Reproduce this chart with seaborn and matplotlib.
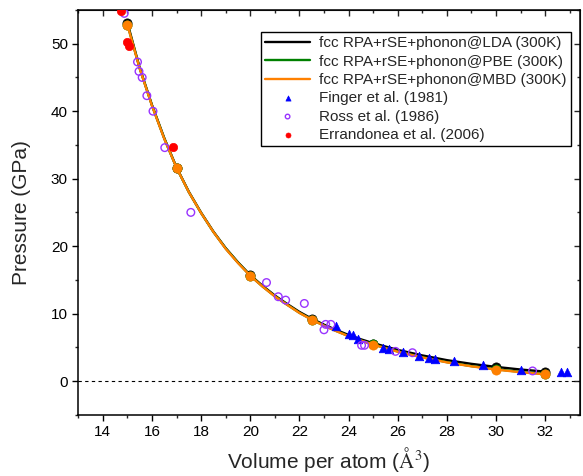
import matplotlib
matplotlib.use('Agg')
import matplotlib.pyplot as plt
import seaborn as sns
import pandas as pd
from matplotlib.ticker import MultipleLocator, NullFormatter

# computed points (markers)
v_calc = [15.0, 17.0, 20.0, 22.5, 25.0, 30.0, 32.0]
p_calc_lda = [53.1, 31.65, 15.65, 9.15, 5.45, 2.1, 1.4]
p_calc_pbe = [52.85, 31.6, 15.62, 9.12, 5.42, 1.75, 1.05]
p_calc_mbd = [52.8, 31.6, 15.6, 9.1, 5.4, 1.7, 1.0]

# curves
v_curve = [15.0, 15.5, 16.0, 16.5, 17.0, 17.5, 18.0, 18.5, 19.0, 19.5, 20.0,
           20.5, 21.0, 21.5, 22.0, 22.5, 23.0, 23.5, 24.0, 24.5, 25.0,
           26.0, 27.0, 28.0, 29.0, 30.0, 31.0, 32.0]
p_curve_lda = [53.1, 46.4, 40.9, 36.0, 31.65, 28.05, 24.95, 22.15, 19.7, 17.6, 15.7,
               14.12, 12.68, 11.43, 10.25, 9.25, 8.36, 7.57, 6.83, 6.19, 5.62,
               4.62, 3.8, 3.1, 2.55, 2.1, 1.71, 1.4]
p_curve_pbe = [52.85, 46.35, 40.85, 35.95, 31.6, 28.0, 24.9, 22.1, 19.65, 17.55, 15.62,
               14.02, 12.57, 11.32, 10.12, 9.12, 8.22, 7.42, 6.67, 6.02, 5.42,
               4.38, 3.53, 2.8, 2.21, 1.75, 1.35, 1.05]
p_curve_mbd = [52.8, 46.3, 40.8, 35.9, 31.6, 28.0, 24.9, 22.1, 19.6, 17.5, 15.6,
               14.0, 12.55, 11.3, 10.1, 9.1, 8.2, 7.4, 6.65, 6.0, 5.4,
               4.35, 3.5, 2.77, 2.18, 1.7, 1.31, 1.0]

# experiments
v_finger = [23.47, 24.03, 24.19, 24.37, 25.4, 25.65, 26.2, 26.85, 27.28, 27.53,
            28.29, 29.48, 31.02, 32.65, 32.9]
p_finger = [8.1, 7.0, 6.9, 6.3, 4.9, 4.7, 4.3, 3.7, 3.4, 3.25,
            2.9, 2.4, 1.7, 1.4, 1.3]
v_ross = [14.87, 15.41, 15.47, 15.6, 15.79, 16.04, 16.52, 17.58, 20.66, 21.14,
          21.44, 22.2, 23.0, 23.07, 23.28, 24.53, 24.65, 25.91, 26.6, 31.49]
p_ross = [54.5, 47.3, 45.9, 45.0, 42.3, 40.0, 34.6, 25.0, 14.6, 12.5,
          12.0, 11.5, 7.6, 8.4, 8.4, 5.3, 5.3, 4.4, 4.2, 1.5]
v_err = [14.73, 15.0, 15.07, 16.86]
p_err = [54.9, 50.2, 49.6, 34.7]

labels_calc = ['fcc RPA+rSE+phonon@LDA (300K)',
               'fcc RPA+rSE+phonon@PBE (300K)',
               'fcc RPA+rSE+phonon@MBD (300K)']
colors_calc = ['black', '#008000', '#FF8000']

sns.set_style('ticks')
plt.rcParams['font.family'] = ['Liberation Sans', 'DejaVu Sans']
plt.rcParams['mathtext.fontset'] = 'stix'

fig = plt.figure(figsize=(5.83, 4.76), dpi=100)
ax = fig.add_axes([0.1343, 0.1286, 0.8597, 0.8504])

ax.axhline(0, color='black', ls=(0, (3, 3)), lw=0.8, zorder=1)

curves = [p_curve_lda, p_curve_pbe, p_curve_mbd]
calcs = [p_calc_lda, p_calc_pbe, p_calc_mbd]
for i in range(3):
    df = pd.DataFrame({'V': v_curve, 'P': curves[i]})
    sns.lineplot(data=df, x='V', y='P', color=colors_calc[i], lw=1.7,
                 label=labels_calc[i], sort=False, estimator=None, ax=ax, zorder=3 + i)

sns.scatterplot(x=v_finger, y=p_finger, marker='^', s=38, color='#0000FF',
                edgecolor='#0000FF', linewidth=0.5, label='Finger et al. (1981)', ax=ax, zorder=6)
sns.scatterplot(x=v_ross, y=p_ross, marker='o', s=30, color='#9933FF',
                linewidth=1.0, label='Ross et al. (1986)', ax=ax, zorder=7)
ross_pts = ax.collections[-1]
ross_pts.set_facecolor('none')
ross_pts.set_edgecolor('#9933FF')
sns.scatterplot(x=v_err, y=p_err, marker='o', s=36, color='#FF0000',
                edgecolor='#FF0000', linewidth=0.5, label='Errandonea et al. (2006)', ax=ax, zorder=8)

for i in range(3):
    sns.scatterplot(x=v_calc, y=calcs[i], marker='o', s=44, color=colors_calc[i],
                    edgecolor=colors_calc[i], linewidth=0.5, ax=ax, zorder=3 + i, legend=False)

ax.set_xlim(13, 33.4)
ax.set_ylim(-5, 55)
ax.xaxis.set_major_locator(MultipleLocator(2))
ax.xaxis.set_minor_locator(MultipleLocator(1))
ax.yaxis.set_major_locator(MultipleLocator(10))
ax.yaxis.set_minor_locator(MultipleLocator(5))
ax.tick_params(which='major', direction='out', length=4, width=1, labelsize=11, colors='black')
ax.tick_params(which='minor', direction='out', length=2.5, width=1)

for s in ax.spines.values():
    s.set_linewidth(1.1)
    s.set_visible(True)
    s.set_color('black')

secx = ax.secondary_xaxis('top')
secx.xaxis.set_major_locator(MultipleLocator(2))
secx.xaxis.set_minor_locator(MultipleLocator(1))
secx.xaxis.set_major_formatter(NullFormatter())
secx.tick_params(which='major', direction='in', length=4, width=1)
secx.tick_params(which='minor', direction='in', length=2.5, width=1)
secy = ax.secondary_yaxis('right')
secy.yaxis.set_major_locator(MultipleLocator(10))
secy.yaxis.set_minor_locator(MultipleLocator(5))
secy.yaxis.set_major_formatter(NullFormatter())
secy.tick_params(which='major', direction='in', length=4, width=1)
secy.tick_params(which='minor', direction='in', length=2.5, width=1)

ax.set_xlabel(r'Volume per atom ($\mathrm{\AA}^3$)', fontsize=15, labelpad=4)
ax.set_ylabel('Pressure (GPa)', fontsize=15, labelpad=14)

leg = ax.legend(loc='upper right', bbox_to_anchor=(0.983, 0.946), fontsize=11,
                frameon=True, fancybox=False, edgecolor='black', framealpha=1,
                handlelength=2.9, handletextpad=0.6, borderpad=0.3, labelspacing=0.28,
                markerscale=0.6, borderaxespad=0)
leg.get_frame().set_linewidth(1.0)

fig.savefig('out.png', dpi=100)
